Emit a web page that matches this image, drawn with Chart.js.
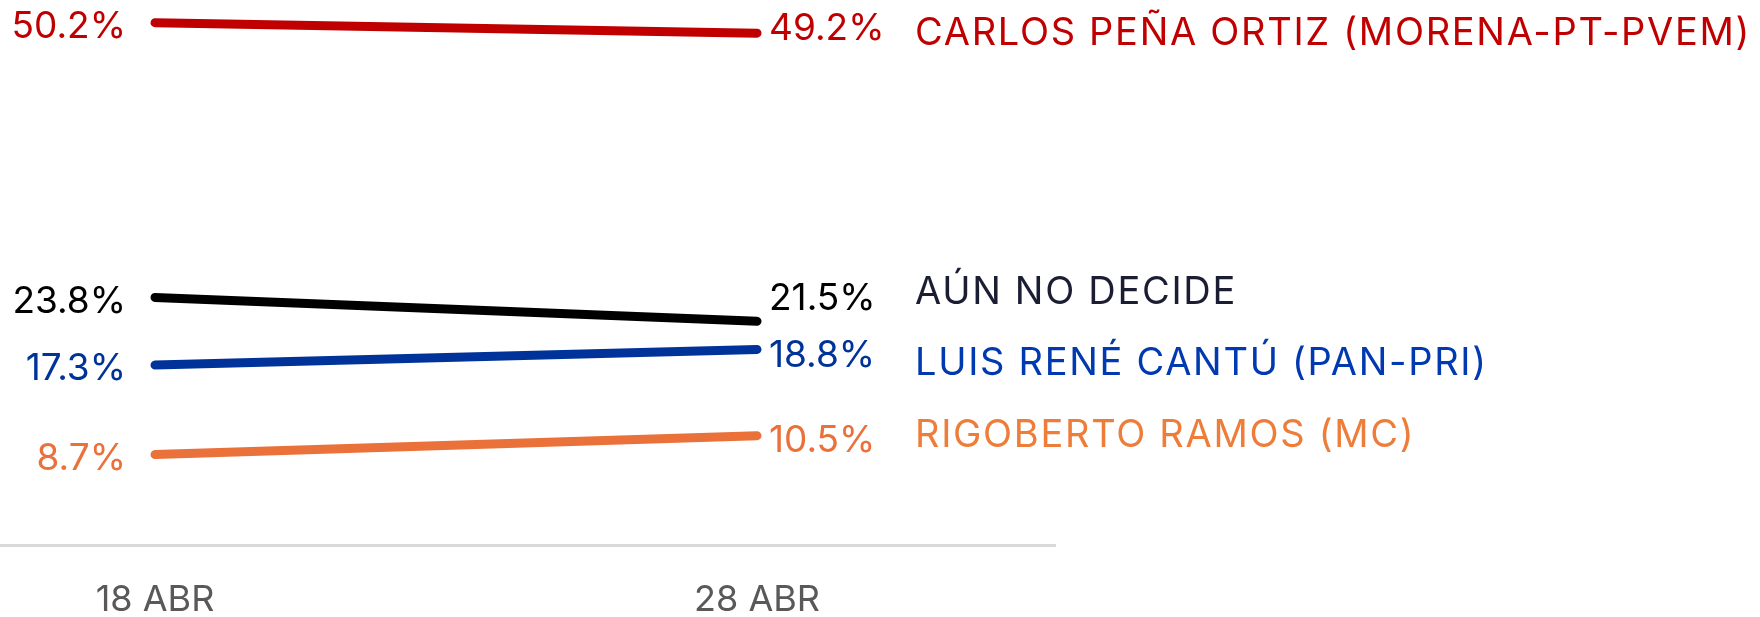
<!DOCTYPE html>
<html>
<head>
<meta charset="utf-8">
<script src="https://cdn.jsdelivr.net/npm/chart.js@4.4.1/dist/chart.umd.min.js"></script>
<style>
  html, body { margin: 0; padding: 0; background: #ffffff; }
  #wrap { width: 1760px; height: 617px; }
</style>
</head>
<body>
<div id="wrap"><canvas id="pollChart"></canvas></div>
<script>
const dates = ['18 ABR', '28 ABR'];
const candidates = ['CARLOS PEÑA ORTIZ (MORENA-PT-PVEM)', 'AÚN NO DECIDE', 'LUIS RENÉ CANTÚ (PAN-PRI)', 'RIGOBERTO RAMOS (MC)'];
const penaValues = [50.2, 49.2];
const noDecideValues = [23.8, 21.5];
const cantuValues = [17.3, 18.8];
const ramosValues = [8.7, 10.5];

const lineColors = ['#c00000', '#000000', '#003399', '#ea7139'];
const nameColors = ['#c00000', '#1b1e33', '#0039b0', '#ee7d3a'];
// nudges (px) so the labels do not overlap
const endLabelShift = [-4, -22, 6, 5];
const nameShift = [0, -29, 14, 0];

const FONT = 'Inter, "Noto Sans", sans-serif';

const labelPlugin = {
    id: 'endLabels',
    afterDatasetsDraw(chart) {
        const ctx = chart.ctx;
        ctx.save();
        ctx.textBaseline = 'middle';
        chart.data.datasets.forEach((ds, i) => {
            const pts = chart.getDatasetMeta(i).data;
            const first = pts[0];
            const last = pts[pts.length - 1];
            ctx.fillStyle = lineColors[i];
            ctx.font = '37px ' + FONT;
            ctx.letterSpacing = '0px';
            ctx.textAlign = 'right';
            ctx.fillText(ds.data[0].y.toFixed(1) + '%', first.x - 29, first.y + 4);
            ctx.textAlign = 'left';
            ctx.fillText(ds.data[pts.length - 1].y.toFixed(1) + '%', last.x + 12, last.y + endLabelShift[i]);
            ctx.fillStyle = nameColors[i];
            ctx.font = '38px ' + FONT;
            ctx.letterSpacing = '1.7px';
            ctx.fillText(ds.label, 915, last.y + nameShift[i]);
        });
        ctx.restore();
    }
};

function series(values) {
    return values.map((v, i) => ({ x: i, y: v }));
}

const seriesValues = [penaValues, noDecideValues, cantuValues, ramosValues];

new Chart(document.getElementById('pollChart'), {
    type: 'line',
    data: {
        datasets: seriesValues.map((vals, i) => ({
            label: candidates[i],
            data: series(vals),
            borderColor: lineColors[i],
            borderWidth: 9,
            borderCapStyle: 'round',
            pointRadius: 0,
            tension: 0
        }))
    },
    options: {
        responsive: true,
        maintainAspectRatio: false,
        animation: false,
        layout: { padding: { top: 4, right: 705, left: 0, bottom: 0 } },
        plugins: {
            legend: { display: false },
            tooltip: { enabled: false }
        },
        scales: {
            x: {
                type: 'linear',
                min: -0.2575,
                max: 1.495,
                afterBuildTicks: (scale) => {
                    scale.ticks = dates.map((d, i) => ({ value: i }));
                },
                afterFit: (scale) => {
                    scale.height = 72;
                },
                ticks: {
                    color: '#595959',
                    padding: 37,
                    font: { family: FONT, size: 36, lineHeight: 1 },
                    callback: (v) => dates[v]
                },
                grid: { display: false, drawTicks: false },
                border: { display: true, color: '#d9d9d9', width: 3 }
            },
            y: {
                display: false,
                min: 0,
                max: 52
            }
        }
    },
    plugins: [labelPlugin]
});
</script>
</body>
</html>
